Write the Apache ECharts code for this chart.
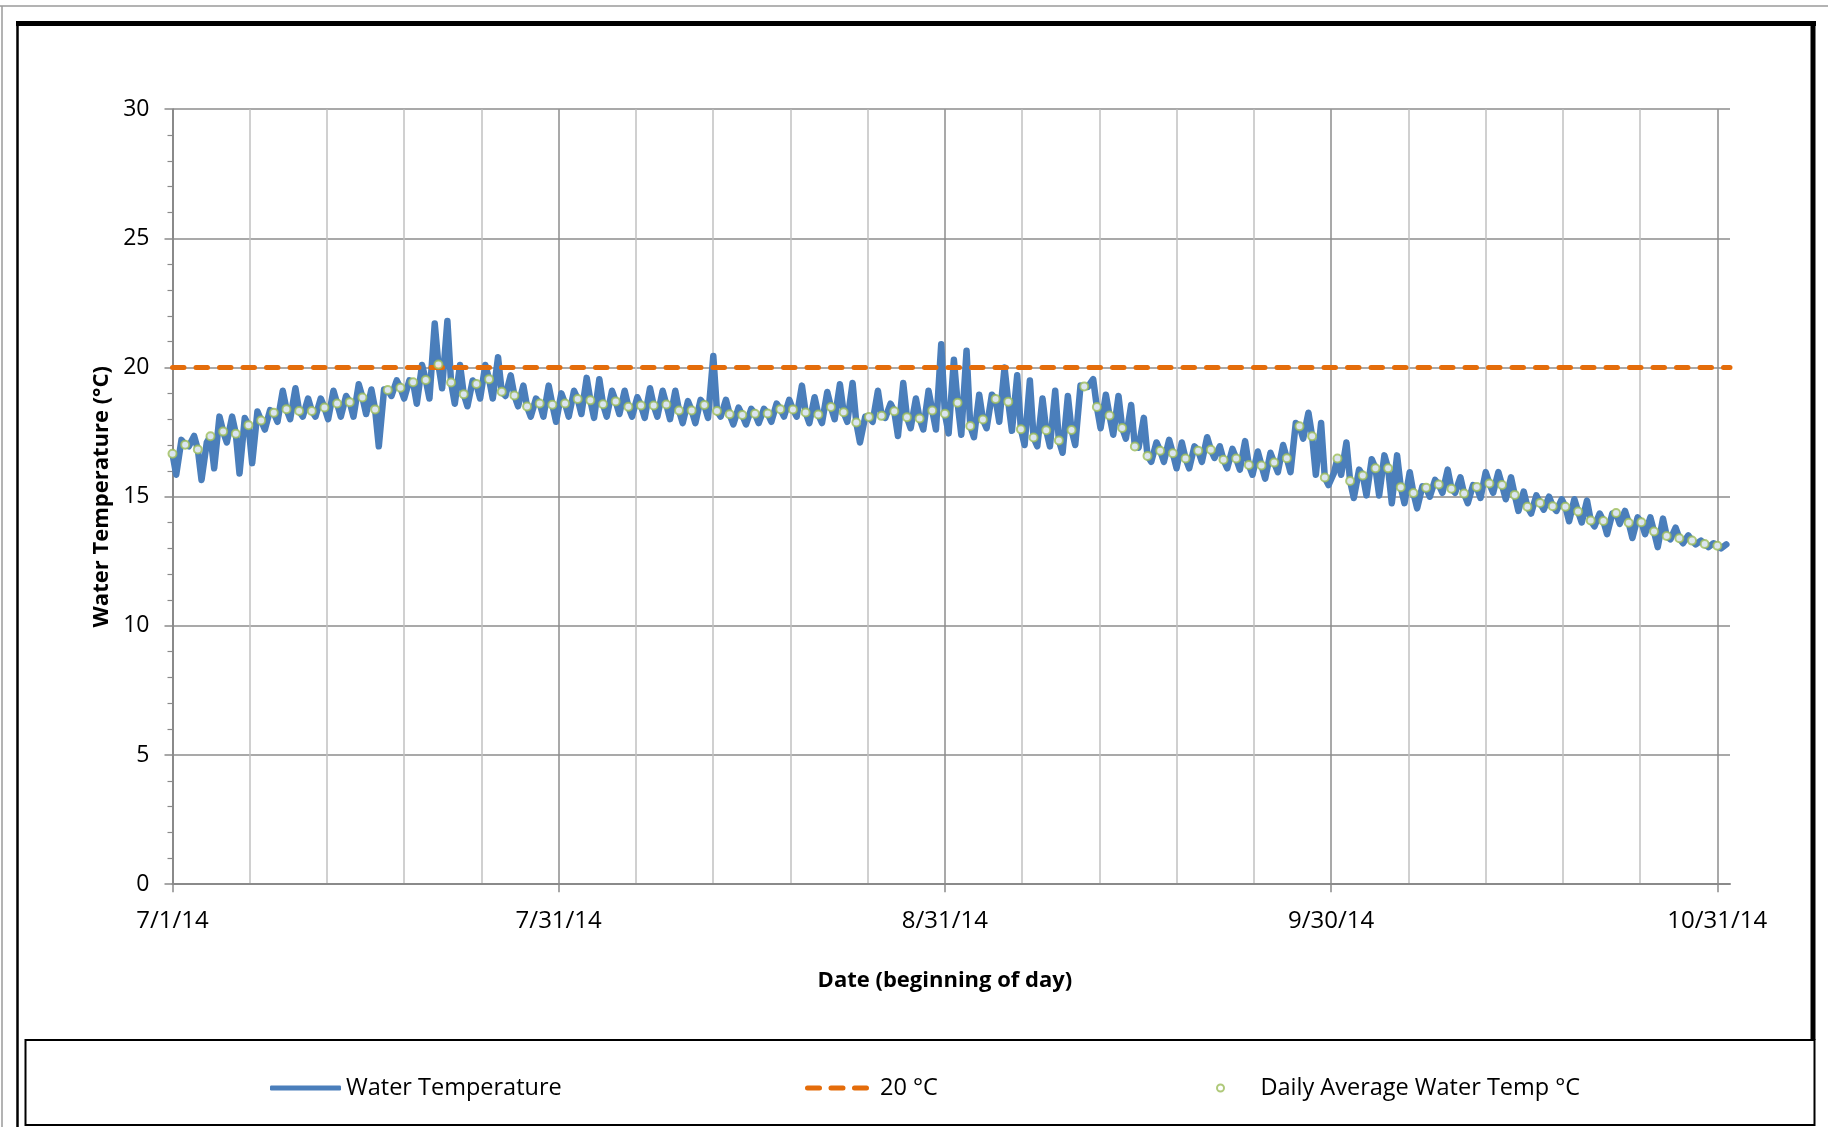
<!DOCTYPE html>
<html>
<head>
<meta charset="utf-8">
<script src="https://cdn.jsdelivr.net/npm/echarts@6/dist/echarts.min.js"></script>
<style>
html,body{margin:0;padding:0;background:#fff;}
#chart{width:1828px;height:1127px;}
</style>
</head>
<body>
<div id="chart"></div>
<script>
// ---- Data (days counted from 7/1/14, day 0 = 7/1/14) ----
const tickDays   = [0, 30.5, 61, 91.5, 122];
const tickLabels = ['7/1/14', '7/31/14', '8/31/14', '9/30/14', '10/31/14'];
const yTicks     = [0, 5, 10, 15, 20, 25, 30];
const threshold  = 20;
const thresholdSpan = [0, 123];

// Daily average water temperature (one per day, 7/1 .. 10/31)
const dailyAvg = [
 16.66,17.01,16.83,17.34,17.52,17.44,17.77,17.95,18.25,18.39,
 18.32,18.32,18.45,18.61,18.66,18.84,18.38,19.13,19.22,19.43,
 19.52,20.12,19.42,18.97,19.36,19.55,19.06,18.92,18.49,18.61,
 18.56,18.61,18.78,18.73,18.58,18.69,18.48,18.53,18.53,18.57,
 18.34,18.34,18.55,18.32,18.19,18.16,18.21,18.22,18.39,18.38,
 18.26,18.18,18.47,18.27,17.87,18.09,18.13,18.31,18.08,18.03,
 18.34,18.21,18.64,17.74,17.99,18.78,18.68,17.61,17.29,17.57,
 17.18,17.58,19.27,18.47,18.14,17.66,16.94,16.58,16.78,16.68,
 16.48,16.78,16.82,16.43,16.48,16.23,16.21,16.32,16.49,17.73,
 17.34,15.74,16.48,15.61,15.82,16.10,16.10,15.37,15.14,15.35,
 15.47,15.31,15.12,15.38,15.51,15.45,15.07,14.61,14.76,14.63,
 14.61,14.43,14.08,14.06,14.37,13.99,14.01,13.65,13.48,13.39,
 13.30,13.17,13.10
];

// Daily minimum (morning) readings of the logger
const dayLow = [
 15.85,16.95,15.65,16.10,17.10,15.90,16.30,17.60,17.90,18.00,
 18.10,18.10,18.00,18.10,18.10,18.20,16.95,18.90,18.80,18.60,
 18.80,19.20,18.60,18.50,18.80,18.80,18.90,18.50,18.10,18.10,
 17.90,18.10,18.20,18.05,18.10,18.20,18.10,18.05,18.10,18.00,
 17.85,17.85,18.05,18.10,17.80,17.80,17.85,17.90,18.10,18.10,
 17.85,17.85,18.00,17.90,17.10,17.90,18.05,17.35,17.65,17.60,
 17.60,17.45,17.40,17.30,17.65,17.90,17.55,17.00,16.95,16.95,
 16.70,17.00,19.25,17.65,17.40,17.25,16.90,16.35,16.35,16.10,
 16.10,16.35,16.50,16.10,16.05,15.85,15.70,15.95,15.95,17.25,
 15.85,15.45,15.85,14.95,15.05,15.05,14.75,14.75,14.55,15.00,
 15.15,15.15,14.75,14.95,15.15,14.90,14.45,14.35,14.50,14.45,
 14.05,14.00,13.85,13.55,13.95,13.40,13.55,13.05,13.35,13.20,
 13.15,13.05,13.00
];

// Daily maximum (afternoon) readings of the logger
const dayHigh = [
 17.20,17.35,17.10,18.10,18.10,18.05,18.30,18.35,19.10,19.20,
 18.80,18.80,19.10,18.90,19.35,19.15,19.15,19.50,19.50,20.10,
 21.70,21.80,20.10,19.50,20.10,20.40,19.70,19.30,18.80,19.30,
 19.00,19.10,19.60,19.55,19.10,19.10,18.85,19.20,19.10,19.10,
 18.70,18.75,20.45,18.75,18.45,18.40,18.40,18.60,18.75,19.30,
 18.85,19.05,19.35,19.40,18.10,19.10,18.60,19.40,18.80,19.10,
 20.90,20.30,20.65,18.95,18.95,20.00,19.70,19.50,18.80,19.10,
 18.90,19.30,19.55,18.95,18.90,18.55,18.05,17.10,17.20,17.10,
 16.95,17.30,16.95,16.85,17.15,16.75,16.70,17.00,17.85,18.25,
 17.85,15.90,17.10,16.05,16.45,16.60,16.60,15.95,15.40,15.65,
 16.05,15.75,15.45,15.95,15.95,15.75,15.20,15.05,15.00,14.90,
 14.90,14.85,14.35,14.35,14.45,14.20,14.20,14.15,13.80,13.50,
 13.30,13.20,13.15
];
const lowHour = 7, highHour = 17;

// ---- Build series data ----
// midnight reading taken as the day's average (circle), then morning low, afternoon high
const waterTemp = [];
for (let d = 0; d < dayLow.length; d++) {
  waterTemp.push([d, dailyAvg[d]]);
  waterTemp.push([d + lowHour / 24, dayLow[d]]);
  waterTemp.push([d + highHour / 24, dayHigh[d]]);
}
const avgPoints = dailyAvg.map((v, d) => [d, v]);
const thresholdLine = thresholdSpan.map(x => [x, threshold]);

const FONT = '"Open Sans", "DejaVu Sans", sans-serif';
const GRID = {left: 172.5, top: 109.2, height: 775};
const dayPx = 1557.5 / 123;
const BLUE = '#4a7ebb', ORANGE = '#e46c0a', GREEN = '#9bbb59';

const chart = echarts.init(document.getElementById('chart'), null, {renderer: 'canvas'});
chart.setOption({
  animation: false,
  backgroundColor: '#ffffff',
  grid: [
    {left: GRID.left, top: GRID.top, width: 1557.5, height: GRID.height, outerBoundsMode: 'none'},
    {left: GRID.left, top: GRID.top, width: dayPx * 122, height: GRID.height, outerBoundsMode: 'none'},
    {left: GRID.left, top: GRID.top, width: dayPx * 122, height: GRID.height, outerBoundsMode: 'none'}
  ],
  xAxis: [
    {
      type: 'value', gridIndex: 0, min: 0, max: 123,
      axisLine: {show: true, lineStyle: {color: '#8a8a8a', width: 2}},
      axisTick: {show: false}, axisLabel: {show: false}, splitLine: {show: false}
    },
    {
      type: 'value', gridIndex: 1, min: 0, max: 122, interval: 6.1,
      axisLine: {show: false}, axisTick: {show: false}, axisLabel: {show: false},
      splitLine: {show: true, lineStyle: {color: ['#8c8c8c','#c0c0c0','#c0c0c0','#c0c0c0','#c0c0c0'], width: 1.5}}
    },
    {
      type: 'value', gridIndex: 2, min: 0, max: 122, interval: 30.5,
      axisLine: {show: false},
      axisTick: {show: true, length: 8, lineStyle: {color: '#8a8a8a', width: 1.5}},
      splitLine: {show: false},
      axisLabel: {
        show: true, margin: 25, color: '#000', fontFamily: FONT, fontSize: 24,
        formatter: v => { const i = tickDays.indexOf(v); return i >= 0 ? tickLabels[i] : ''; }
      },
      name: 'Date (beginning of day)', nameLocation: 'middle', nameGap: 86,
      nameTextStyle: {color: '#000', fontFamily: FONT, fontWeight: 'bold', fontSize: 22}
    }
  ],
  yAxis: [
    {
      type: 'value', gridIndex: 0, min: yTicks[0], max: yTicks[yTicks.length - 1], interval: 5,
      axisLine: {show: true, lineStyle: {color: '#8a8a8a', width: 2}},
      axisTick: {show: true, length: 8, lineStyle: {color: '#8a8a8a', width: 1.5}},
      minorTick: {show: true, splitNumber: 5, length: 5, lineStyle: {color: '#8a8a8a', width: 1.2}},
      splitLine: {show: true, lineStyle: {color: '#8c8c8c', width: 1.5}},
      axisLabel: {margin: 23, color: '#000', fontFamily: FONT, fontSize: 23},
      name: 'Water Temperature (°C)', nameLocation: 'middle', nameGap: 58, nameRotate: 90,
      nameTextStyle: {color: '#000', fontFamily: FONT, fontWeight: 'bold', fontSize: 22}
    },
    {type: 'value', gridIndex: 1, min: 0, max: 30, show: false},
    {type: 'value', gridIndex: 2, min: 0, max: 30, show: false}
  ],
  legend: [
    {
      data: [{name: 'Water Temperature', icon: 'roundRect'}], left: 265, top: 1071,
      itemWidth: 71, itemHeight: 5, selectedMode: false,
      itemStyle: {color: BLUE, borderWidth: 0},
      textStyle: {color: '#000', fontFamily: FONT, fontSize: 23.5}
    },
    {
      data: [{name: '20 °C',
        icon: 'path://M2.5,0 H14.5 A2.5,2.5 0 0 1 14.5,5 H2.5 A2.5,2.5 0 0 1 2.5,0 Z M26,0 H38 A2.5,2.5 0 0 1 38,5 H26 A2.5,2.5 0 0 1 26,0 Z M49.5,0 H61.5 A2.5,2.5 0 0 1 61.5,5 H49.5 A2.5,2.5 0 0 1 49.5,0 Z'}],
      left: 800, top: 1071, itemWidth: 64, itemHeight: 5, selectedMode: false,
      itemStyle: {color: ORANGE, borderWidth: 0},
      textStyle: {color: '#000', fontFamily: FONT, fontSize: 23.5, padding: [0, 0, 0, 6]}
    },
    {
      data: ['Daily Average Water Temp °C'], left: 1211, top: 1071, itemWidth: 70, itemHeight: 7,
      selectedMode: false, textStyle: {color: '#000', fontFamily: FONT, fontSize: 23.5}
    }
  ],
  graphic: [
    {type: 'line', shape: {x1: 0, y1: 6, x2: 1828, y2: 6}, style: {stroke: '#9a9a9a', lineWidth: 1.5}, silent: true},
    {type: 'line', shape: {x1: 2, y1: 6, x2: 2, y2: 1127}, style: {stroke: '#9a9a9a', lineWidth: 1.5}, silent: true},
    {type: 'line', shape: {x1: 16, y1: 23.5, x2: 1816, y2: 23.5}, style: {stroke: '#000', lineWidth: 5}, silent: true},
    {type: 'line', shape: {x1: 17.5, y1: 21, x2: 17.5, y2: 1127}, style: {stroke: '#000', lineWidth: 2.5}, silent: true},
    {type: 'line', shape: {x1: 1813, y1: 21, x2: 1813, y2: 1040}, style: {stroke: '#000', lineWidth: 5}, silent: true},
    {type: 'rect', shape: {x: 25.5, y: 1040, width: 1789, height: 85}, style: {fill: '#fff', stroke: '#000', lineWidth: 2}, silent: true}
  ],
  series: [
    {
      name: 'Water Temperature', type: 'line', xAxisIndex: 0, yAxisIndex: 0,
      data: waterTemp, symbol: 'none', z: 2,
      lineStyle: {color: BLUE, width: 6.5, join: 'round', cap: 'round'},
      itemStyle: {color: BLUE}
    },
    {
      name: '20 °C', type: 'line', xAxisIndex: 0, yAxisIndex: 0,
      data: thresholdLine, symbol: 'none', z: 3,
      lineStyle: {color: ORANGE, width: 5, type: [11.5, 12], cap: 'round'},
      itemStyle: {color: ORANGE}
    },
    {
      name: 'Daily Average Water Temp °C', type: 'scatter', xAxisIndex: 0, yAxisIndex: 0,
      data: avgPoints, symbol: 'emptyCircle', symbolSize: 8, z: 4,
      itemStyle: {color: GREEN, borderColor: GREEN, borderWidth: 2}
    }
  ]
});
</script>
</body>
</html>
